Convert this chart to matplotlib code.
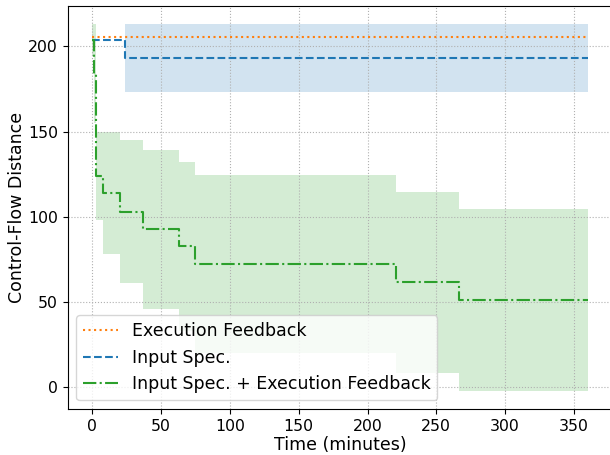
import matplotlib
matplotlib.use("Agg")
import matplotlib.pyplot as plt

## Donnees (temps en minutes)
t_exec = [0, 360]
exec_mean = [205.3, 205.3]

t_spec = [0, 24, 360]
spec_mean = [203.5, 193, 193]
spec_low = [203.5, 173.5, 173.5]
spec_high = [203.5, 213, 213]

t_both = [0, 1, 3, 7.5, 20, 37, 63, 75, 220.5, 266.6, 360]
both_mean = [203.5, 184, 124, 113.7, 103, 92.6, 82.6, 72, 61.8, 51.1, 51.1]
both_low = [195, 155, 98, 78, 61, 46, 33, 20, 8.4, -2.2, -2.2]
both_high = [213, 213, 150, 150, 145, 139, 132.3, 124.5, 114.6, 104.8, 104.8]

fig, ax = plt.subplots(figsize=(6.1, 4.55), dpi=100)
# la figure d'origine est rognee a droite : le cadre depasse le bord
fig.subplots_adjust(left=0.1107, right=1.004, top=0.9868, bottom=0.1011)

ax.plot(t_exec, exec_mean, ':', color='tab:orange', drawstyle='steps-post', label='Execution Feedback')

ax.plot(t_spec, spec_mean, '--', color='tab:blue', drawstyle='steps-post', label='Input Spec.')
ax.fill_between(t_spec, spec_low, spec_high, step='post', color='tab:blue', alpha=0.2, linewidth=0)

ax.plot(t_both, both_mean, '-.', color='tab:green', drawstyle='steps-post', label='Input Spec. + Execution Feedback')
ax.fill_between(t_both, both_low, both_high, step='post', color='tab:green', alpha=0.2, linewidth=0)

ax.set_xlabel('Time (minutes)', fontsize=12.5, labelpad=2)
ax.set_ylabel('Control-Flow Distance', fontsize=12.5, labelpad=1.5)
ax.tick_params(labelsize=11.3)
ax.grid(True, linestyle=':', color='#b0b0b0')
ax.legend(loc='lower left', fontsize=12.5)

fig.savefig('out.png')
